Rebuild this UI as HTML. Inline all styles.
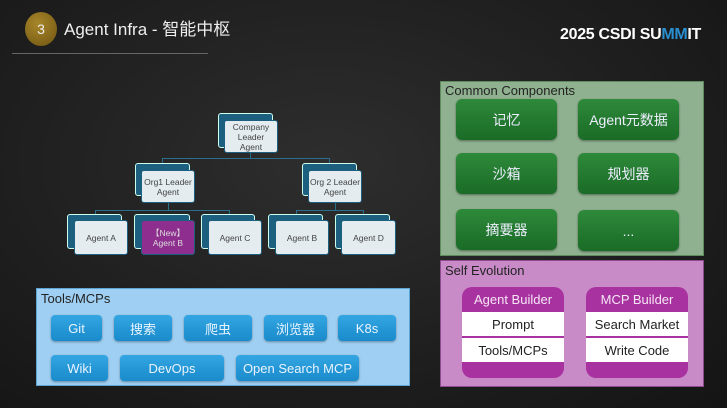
<!DOCTYPE html>
<html><head><meta charset="utf-8"><style>
*{margin:0;padding:0;box-sizing:border-box}
body{width:727px;height:408px;overflow:hidden;background:radial-gradient(ellipse at 45% 40%,#2e2e2e 0%,#1e1e1e 60%,#141414 100%);position:relative;font-family:"Liberation Sans","Noto Sans CJK SC",sans-serif}
.a{position:absolute}
.back{position:absolute;background:#1d5f7f;border:1px solid #cfe;border-radius:3px}
.front{position:absolute;background:#e4ecf0;border:1px solid #1d5f7f;border-radius:3px;display:flex;align-items:center;justify-content:center;text-align:center;font-size:8.5px;line-height:10px;color:#444}
.ln{position:absolute;background:#2a6e8e}
.tb{position:absolute;background:linear-gradient(#33a6e2,#1a8acb);border-radius:4px;color:#e8f4ff;font-size:13px;display:flex;align-items:center;justify-content:center;box-shadow:0 1px 2px rgba(0,0,0,.35)}
.gb{position:absolute;background:linear-gradient(#2e8a3a,#1a6b26);border-radius:6px;color:#eef;font-size:14px;display:flex;align-items:center;justify-content:center;box-shadow:0 1px 2px rgba(0,0,0,.4)}
.card{position:absolute;background:#a8329f;border-radius:10px;overflow:hidden}
.card .h{height:25px;color:#f5e6f5;font-size:13px;display:flex;align-items:center;justify-content:center}
.card .r{background:#fff;height:24px;margin-bottom:2px;color:#222;font-size:13px;display:flex;align-items:center;justify-content:center}
</style></head><body>
<div class="a" style="left:25px;top:12px;width:32px;height:34px;border-radius:50%;background:radial-gradient(circle at 40% 35%,#a8862a,#6e5410);color:#eee;font-size:14px;display:flex;align-items:center;justify-content:center">3</div>
<div class="a" style="left:64px;top:15px;color:#eee;font-size:17px">Agent Infra - 智能中枢</div>
<div class="a" style="left:12px;top:53px;width:196px;height:1px;background:#666"></div>
<div class="a" style="left:560px;top:26px;color:#fff;font-size:16px;font-weight:bold;letter-spacing:-0.3px">2025 CSDI SU<span style="color:#2a8fd0">MM</span>IT</div>

<div class="ln" style="left:250px;top:153px;width:1px;height:5px"></div>
<div class="ln" style="left:162px;top:158px;width:167px;height:1px"></div>
<div class="ln" style="left:162px;top:158px;width:1px;height:5px"></div>
<div class="ln" style="left:329px;top:158px;width:1px;height:5px"></div>
<div class="ln" style="left:168px;top:203px;width:1px;height:7px"></div>
<div class="ln" style="left:95px;top:210px;width:134px;height:1px"></div>
<div class="ln" style="left:95px;top:210px;width:1px;height:4px"></div>
<div class="ln" style="left:229px;top:210px;width:1px;height:4px"></div>
<div class="ln" style="left:335px;top:203px;width:1px;height:7px"></div>
<div class="ln" style="left:296px;top:210px;width:67px;height:1px"></div>
<div class="ln" style="left:296px;top:210px;width:1px;height:4px"></div>
<div class="ln" style="left:363px;top:210px;width:1px;height:4px"></div>

<div class="back" style="left:218px;top:113px;width:55px;height:35px"></div>
<div class="front" style="left:224px;top:120px;width:54px;height:33px">Company<br>Leader<br>Agent</div>
<div class="back" style="left:135px;top:163px;width:55px;height:33px"></div>
<div class="front" style="left:141px;top:170px;width:54px;height:33px">Org1 Leader<br>Agent</div>
<div class="back" style="left:302px;top:163px;width:55px;height:33px"></div>
<div class="front" style="left:308px;top:170px;width:54px;height:33px">Org 2 Leader<br>Agent</div>

<div class="back" style="left:67px;top:214px;width:55px;height:35px"></div>
<div class="front" style="left:74px;top:220px;width:54px;height:35px">Agent A</div>
<div class="back" style="left:134px;top:214px;width:56px;height:35px"></div>
<div class="front" style="left:141px;top:220px;width:54px;height:35px;background:#8e2f8f;color:#ddd">【New】<br>Agent B</div>
<div class="back" style="left:201px;top:214px;width:54px;height:35px"></div>
<div class="front" style="left:208px;top:220px;width:54px;height:35px">Agent C</div>
<div class="back" style="left:268px;top:214px;width:55px;height:35px"></div>
<div class="front" style="left:275px;top:220px;width:54px;height:35px">Agent B</div>
<div class="back" style="left:335px;top:214px;width:55px;height:35px"></div>
<div class="front" style="left:341px;top:220px;width:55px;height:35px">Agent D</div>

<div class="a" style="left:36px;top:288px;width:374px;height:98px;background:#9fcff2;border:1px solid #5ca6d6"></div>
<div class="a" style="left:41px;top:291px;font-size:13px;color:#222">Tools/MCPs</div>
<div class="tb" style="left:51px;top:315px;width:51px;height:26px">Git</div>
<div class="tb" style="left:114px;top:315px;width:58px;height:26px">搜索</div>
<div class="tb" style="left:184px;top:315px;width:68px;height:26px">爬虫</div>
<div class="tb" style="left:264px;top:315px;width:63px;height:26px">浏览器</div>
<div class="tb" style="left:338px;top:315px;width:58px;height:26px">K8s</div>
<div class="tb" style="left:51px;top:355px;width:57px;height:26px">Wiki</div>
<div class="tb" style="left:120px;top:355px;width:104px;height:26px">DevOps</div>
<div class="tb" style="left:236px;top:355px;width:123px;height:26px">Open Search MCP</div>

<div class="a" style="left:440px;top:81px;width:264px;height:175px;background:#8fb190;border:1px solid #5e8a5e"></div>
<div class="a" style="left:445px;top:83px;font-size:13px;color:#222">Common Components</div>
<div class="gb" style="left:456px;top:99px;width:101px;height:41px">记忆</div>
<div class="gb" style="left:578px;top:99px;width:101px;height:41px">Agent元数据</div>
<div class="gb" style="left:456px;top:153px;width:101px;height:41px">沙箱</div>
<div class="gb" style="left:578px;top:153px;width:101px;height:41px">规划器</div>
<div class="gb" style="left:456px;top:209px;width:101px;height:41px">摘要器</div>
<div class="gb" style="left:578px;top:210px;width:101px;height:41px">...</div>

<div class="a" style="left:440px;top:260px;width:264px;height:127px;background:#c98bc8;border:1px solid #8e4a8e"></div>
<div class="a" style="left:445px;top:263px;font-size:13px;color:#222">Self Evolution</div>
<div class="card" style="left:462px;top:287px;width:102px;height:91px"><div class="h">Agent Builder</div><div class="r">Prompt</div><div class="r">Tools/MCPs</div></div>
<div class="card" style="left:586px;top:287px;width:102px;height:91px"><div class="h">MCP Builder</div><div class="r">Search Market</div><div class="r">Write Code</div></div>
</body></html>
